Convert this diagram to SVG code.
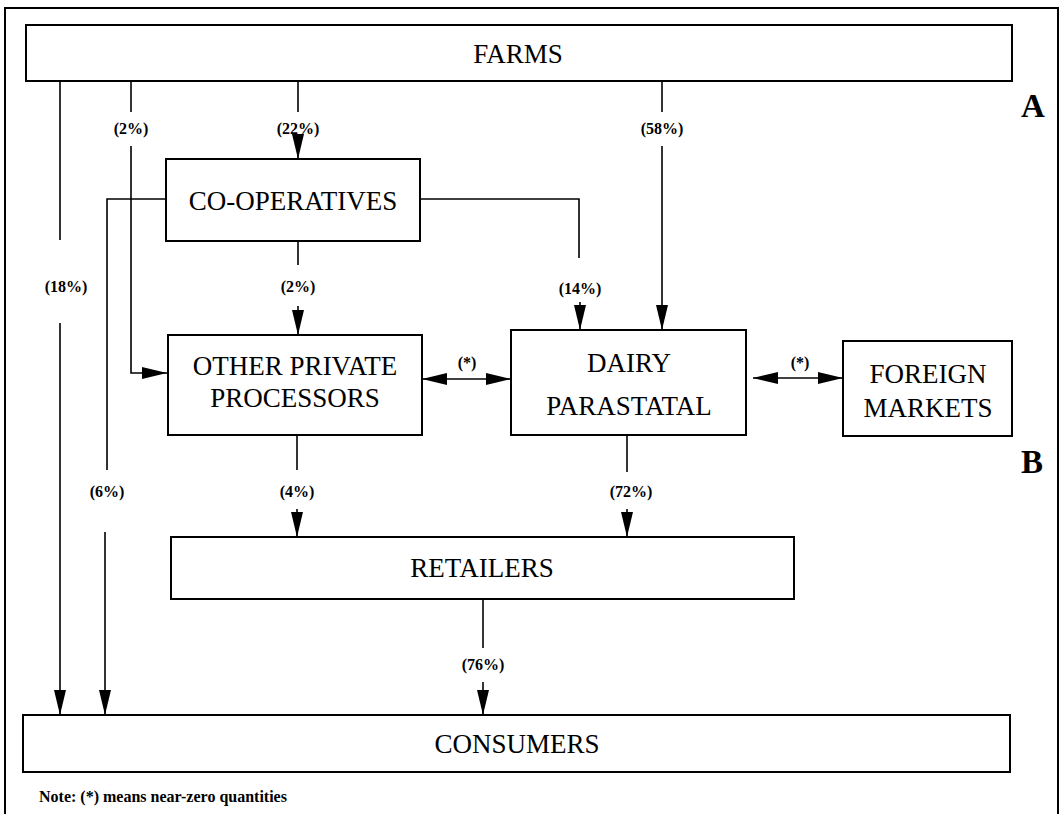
<svg xmlns="http://www.w3.org/2000/svg" width="1062" height="814" viewBox="0 0 1062 814">
<defs>
<style>
text{font-family:'Liberation Serif','Times New Roman','DejaVu Serif',serif;fill:#000}
.box{fill:#fff;stroke:#000;stroke-width:2}
.node{font-size:27px;text-anchor:middle}
.lbl{font-size:16px;font-weight:bold;text-anchor:middle}
.side{font-size:33px;font-weight:bold}
.note{font-size:16px;font-weight:bold}
.ln{fill:none;stroke:#000;stroke-width:1.6}
.arr{marker-end:url(#ah)}
.dbl{marker-end:url(#ah);marker-start:url(#ah)}
</style>
<marker id="ah" markerUnits="userSpaceOnUse" markerWidth="25" markerHeight="12" refX="25" refY="6" orient="auto-start-reverse">
<path d="M0,0 L25,6 L0,12 z" fill="#000"/>
</marker>
</defs>
<rect width="1062" height="814" fill="#fff"/>
<path d="M5,820 V8 H1058 V820" fill="none" stroke="#000" stroke-width="2"/>

<g id="farms"><rect class="box" x="26" y="25" width="986" height="56"/><text class="node" font-family="Liberation Serif, serif" x="518" y="63">FARMS</text></g>
<g id="cooperatives"><rect class="box" x="166" y="159" width="254" height="82"/><text class="node" font-family="Liberation Serif, serif" x="293" y="210">CO-OPERATIVES</text></g>
<g id="other-private"><rect class="box" x="168" y="335" width="254" height="100"/><text class="node" font-family="Liberation Serif, serif" x="295" y="375">OTHER PRIVATE</text><text class="node" font-family="Liberation Serif, serif" x="295" y="407">PROCESSORS</text></g>
<g id="dairy"><rect class="box" x="511" y="330" width="235" height="105"/><text class="node" font-family="Liberation Serif, serif" x="629" y="372">DAIRY</text><text class="node" font-family="Liberation Serif, serif" x="629" y="415">PARASTATAL</text></g>
<g id="foreign"><rect class="box" x="843" y="341" width="169" height="95"/><text class="node" font-family="Liberation Serif, serif" x="928" y="383">FOREIGN</text><text class="node" font-family="Liberation Serif, serif" x="928" y="417">MARKETS</text></g>
<g id="retailers"><rect class="box" x="171" y="537" width="623" height="62"/><text class="node" font-family="Liberation Serif, serif" x="482" y="577">RETAILERS</text></g>
<g id="consumers"><rect class="box" x="23" y="715" width="987" height="57"/><text class="node" font-family="Liberation Serif, serif" x="517" y="753">CONSUMERS</text></g>

<g id="connectors">
<path class="ln" d="M60,81 V240"/><path class="ln arr" d="M60,323 V715"/>
<path class="ln" d="M131,81 V112"/><path class="ln arr" d="M131,146 V373 H167"/>
<path class="ln" d="M298,81 V112"/><path class="ln arr" d="M298,134 V159"/>
<path class="ln" d="M662,81 V112"/><path class="ln arr" d="M662,146 V330"/>
<path class="ln" d="M166,199 H107 V470"/><path class="ln arr" d="M105,532 V715"/>
<path class="ln" d="M420,199 H579 V258"/><path class="ln arr" d="M580,302 V330"/>
<path class="ln" d="M298,241 V265"/><path class="ln arr" d="M298,306 V335"/>
<path class="ln dbl" d="M422,379 H511"/>
<path class="ln dbl" d="M753,378 H843"/>
<path class="ln" d="M297,435 V470"/><path class="ln arr" d="M297,509 V537"/>
<path class="ln" d="M627,435 V472"/><path class="ln arr" d="M627,509 V537"/>
<path class="ln" d="M483,599 V648"/><path class="ln arr" d="M483,682 V715"/>
<text class="lbl" x="131" y="134">(2%)</text>
<text class="lbl" x="298" y="134">(22%)</text>
<text class="lbl" x="662" y="134">(58%)</text>
<text class="lbl" x="66" y="292">(18%)</text>
<text class="lbl" x="298" y="292">(2%)</text>
<text class="lbl" x="580" y="294">(14%)</text>
<text class="lbl" x="467" y="368">(*)</text>
<text class="lbl" x="800" y="368">(*)</text>
<text class="lbl" x="107" y="497">(6%)</text>
<text class="lbl" x="297" y="497">(4%)</text>
<text class="lbl" x="631" y="497">(72%)</text>
<text class="lbl" x="483" y="670">(76%)</text>
</g>

<text class="side" x="1021" y="117">A</text>
<text class="side" x="1021" y="473">B</text>
<text class="note" x="39" y="802">Note: (*) means near-zero quantities</text>
</svg>
